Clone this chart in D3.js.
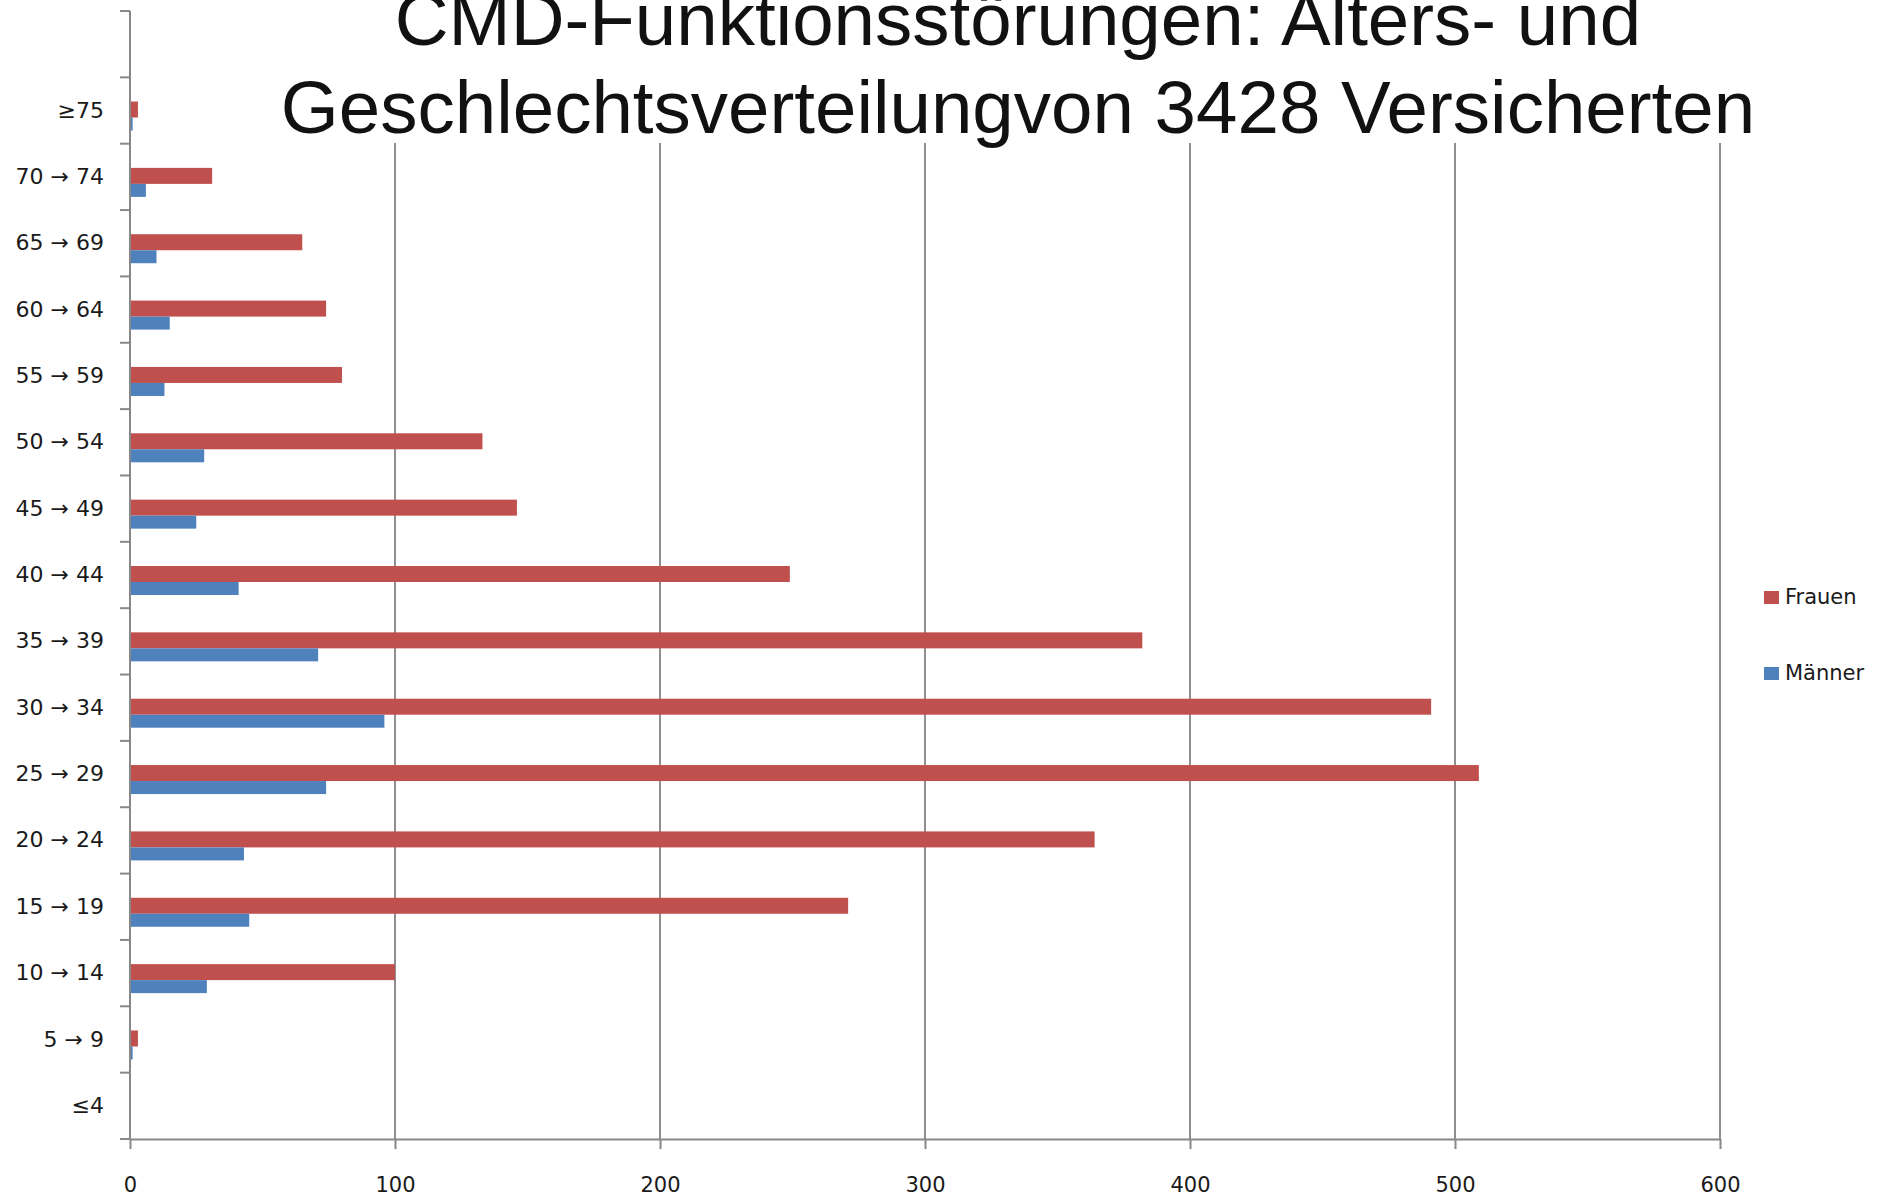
<!DOCTYPE html>
<html>
<head>
<meta charset="utf-8">
<script src="https://cdn.jsdelivr.net/npm/d3@7.9.0/dist/d3.min.js"></script>
<style>
  body { margin: 0; background: #fff; }
</style>
</head>
<body>
<svg id="chart" width="1887" height="1197"></svg>
<script>
const ageGroups = ["≥75", "70 → 74", "65 → 69", "60 → 64", "55 → 59", "50 → 54", "45 → 49", "40 → 44",
  "35 → 39", "30 → 34", "25 → 29", "20 → 24", "15 → 19", "10 → 14", "5 → 9", "≤4"];
const frauen = [3, 31, 65, 74, 80, 133, 146, 249, 382, 491, 509, 364, 271, 100, 3, 0];
const maenner = [1, 6, 10, 15, 13, 28, 25, 41, 71, 96, 74, 43, 45, 29, 1, 0];
const xTicks = [0, 100, 200, 300, 400, 500, 600];
const seriesNames = ["Frauen", "Männer"];
const titleLines = ["CMD-Funktionsstörungen: Alters- und", "Geschlechtsverteilungvon 3428 Versicherten"];

const svg = d3.select("#chart");
const colors = { Frauen: "#c0504d", "Männer": "#4f81bd" };
const axisColor = "#888888";
const labelFont = "'DejaVu Sans', Verdana, sans-serif";

const x = d3.scaleLinear().domain([0, 600]).range([130, 1720]);
// an empty slot sits above the first age group
const y = d3.scaleBand().domain(["", ...ageGroups]).range([11, 1139]).padding(0);
const bw = y.bandwidth();

const data = ageGroups.map((g, i) => ({ group: g, Frauen: frauen[i], "Männer": maenner[i] }));

// vertical gridlines
svg.append("g")
  .selectAll("line")
  .data(xTicks.filter(d => d > 0))
  .join("line")
  .attr("x1", d => x(d)).attr("x2", d => x(d))
  .attr("y1", 11).attr("y2", 1139)
  .attr("stroke", "#8f8f8f")
  .attr("stroke-width", 2);

// bars
const bars = svg.append("g");
bars.selectAll("rect.f")
  .data(data)
  .join("rect")
  .attr("class", "f")
  .attr("x", x(0))
  .attr("y", d => y(d.group) + bw / 2 - 9)
  .attr("width", d => x(d.Frauen) - x(0))
  .attr("height", 16)
  .attr("fill", colors.Frauen);

bars.selectAll("rect.m")
  .data(data)
  .join("rect")
  .attr("class", "m")
  .attr("x", x(0))
  .attr("y", d => y(d.group) + bw / 2 + 7)
  .attr("width", d => x(d["Männer"]) - x(0))
  .attr("height", 13)
  .attr("fill", colors["Männer"]);

// title box covers the top of the gridlines
svg.append("rect")
  .attr("x", 200).attr("y", 0)
  .attr("width", 1687).attr("height", 143)
  .attr("fill", "#fff");

svg.append("g")
  .selectAll("text")
  .data(titleLines)
  .join("text")
  .attr("x", 1018)
  .attr("y", (d, i) => 45 + i * 88)
  .attr("text-anchor", "middle")
  .attr("font-family", "'Liberation Sans', Arial, sans-serif")
  .attr("font-size", "74.5px")
  .attr("fill", "#111")
  .text(d => d);

// y axis: labels at band centres, ticks at band edges
const yAxis = svg.append("g")
  .attr("transform", `translate(${x(0)},0)`)
  .call(d3.axisLeft(y).tickSize(0).tickPadding(26));
yAxis.select(".domain").remove();
yAxis.selectAll("text")
  .attr("font-family", labelFont)
  .attr("font-size", "22px")
  .attr("fill", "#1a1a1a");

const edges = [...y.domain().map(d => y(d)), y.range()[1]];
svg.append("g")
  .selectAll("line")
  .data(edges)
  .join("line")
  .attr("x1", x(0) - 10).attr("x2", x(0))
  .attr("y1", d => d).attr("y2", d => d)
  .attr("stroke", axisColor)
  .attr("stroke-width", 2);

svg.append("line")
  .attr("x1", x(0)).attr("x2", x(0))
  .attr("y1", 11).attr("y2", 1139)
  .attr("stroke", axisColor)
  .attr("stroke-width", 2);

// x axis
const xAxis = svg.append("g")
  .attr("transform", "translate(0,1139)")
  .call(d3.axisBottom(x).tickValues(xTicks).tickSize(10).tickPadding(28).tickSizeOuter(0));
xAxis.select(".domain")
  .attr("stroke", axisColor)
  .attr("stroke-width", 2);
xAxis.selectAll(".tick line")
  .attr("stroke", axisColor)
  .attr("stroke-width", 2);
xAxis.selectAll("text")
  .attr("font-family", labelFont)
  .attr("font-size", "21px")
  .attr("fill", "#1a1a1a");

// legend
const legend = svg.append("g")
  .selectAll("g")
  .data(seriesNames)
  .join("g")
  .attr("transform", (d, i) => `translate(1764,${591 + i * 76})`);
legend.append("rect")
  .attr("width", 15).attr("height", 13)
  .attr("fill", d => colors[d]);
legend.append("text")
  .attr("x", 21).attr("y", 13)
  .attr("font-family", labelFont)
  .attr("font-size", "21px")
  .attr("fill", "#1a1a1a")
  .text(d => d);
</script>
</body>
</html>
